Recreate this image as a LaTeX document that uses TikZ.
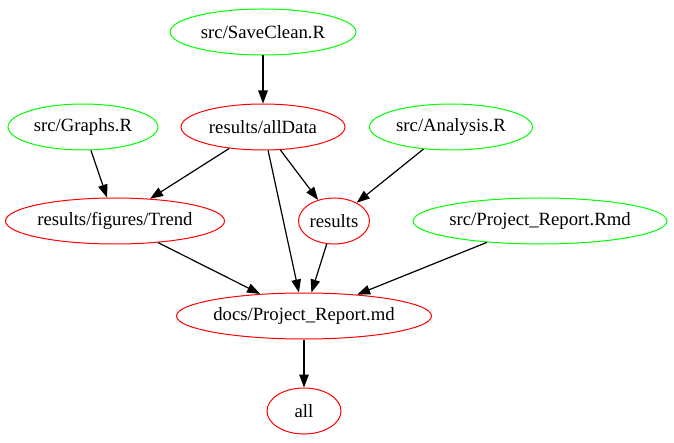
\documentclass[tikz,border=0pt]{standalone}
\usepackage{fontspec}
\setmainfont{Liberation Serif}
\usetikzlibrary{shapes.geometric,arrows.meta}

\tikzset{
  file/.style={ellipse,line width=1pt,inner sep=0pt,minimum height=46pt,minimum width=#1,
    font=\fontsize{18.7}{22}\selectfont},
  script/.style={file=#1,draw={rgb,255:red,0;green,255;blue,0}},
  target/.style={file=#1,draw={rgb,255:red,255;green,0;blue,0}},
  edge/.style={draw=black,line width=1.2pt,-{Triangle[length=13pt,width=9.5pt]}}
}
\newcommand{\fname}[1]{\makebox[0pt]{#1}}

\begin{document}
\begin{tikzpicture}[x=1pt,y=-1pt]
\path[use as bounding box,fill=white] (0,0) rectangle (674,443);

% scripts
\node[script=186pt] (saveclean) at (263,32) {\fname{src/SaveClean.R}};
\node[script=150pt] (graphs) at (83,127) {\fname{src/Graphs.R}};
\node[script=163pt] (analysis) at (451,127) {\fname{src/Analysis.R}};
\node[script=254pt] (rmd) at (540,221) {\fname{src/Project\_Report.Rmd}};

% targets
\node[target=164pt] (alldata) at (263,127) {\fname{results/allData}};
\node[target=219pt] (trend) at (115,221) {\fname{results/figures/Trend}};
\node[target=71pt] (results) at (334,221) {\fname{results}};
\node[target=255pt] (md) at (304,316) {\fname{docs/Project\_Report.md}};
\node[target=74pt] (all) at (304,411) {\fname{all}};

% dependencies
\draw[edge] (saveclean) -- (alldata);
\draw[edge] (graphs) -- (trend);
\draw[edge] (alldata) -- (trend);
\draw[edge] (alldata) -- (results);
\draw[edge] (alldata) -- (md);
\draw[edge] (analysis) -- (results);
\draw[edge] (trend) -- (md);
\draw[edge] (results) -- (md);
\draw[edge] (rmd) -- (md);
\draw[edge] (md) -- (all);
\end{tikzpicture}
\end{document}
